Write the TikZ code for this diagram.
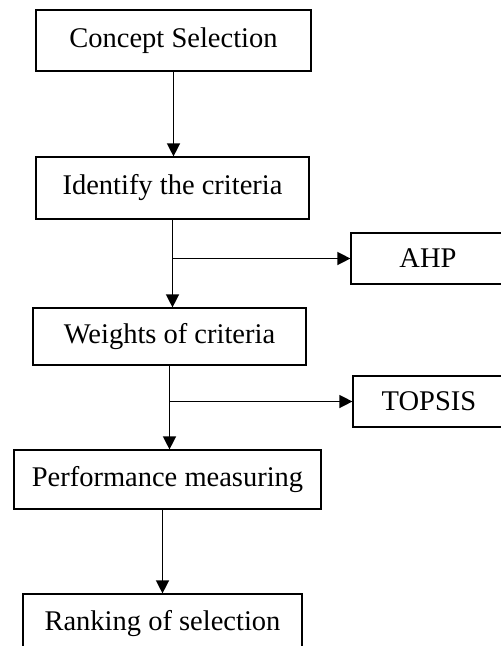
\documentclass[tikz,border=0pt]{standalone}
\usepackage{fontspec}
\setmainfont{Liberation Serif}
\usetikzlibrary{arrows.meta}
\tikzset{
  etape/.style={draw, line width=1.2pt, inner sep=0pt, font=\fontsize{28.5}{34}\selectfont},
  fleche/.style={line width=1.4pt, -{Triangle[length=13pt,width=13pt]}}
}

\begin{document}
\begin{tikzpicture}[x=1pt,y=-1pt]
\useasboundingbox (0,0) rectangle (501,646);

\node [etape, minimum width=275pt, minimum height=61pt] (concept) at (173.5,40.5) {Concept Selection};
\node [etape, minimum width=273pt, minimum height=62pt] (identify) at (172.5,188) {Identify the criteria};
\node [etape, minimum width=273pt, minimum height=57pt] (weights) at (169.5,336.5) {Weights of criteria};
\node [etape, minimum width=307pt, minimum height=59pt] (perf) at (167.5,479.5) {Performance measuring};
\node [etape, minimum width=279pt, minimum height=60pt] (ranking) at (162.5,624) {Ranking of selection};

\node [etape, minimum width=154pt, minimum height=51pt] (ahp) at (428,258.5) {AHP};
\node [etape, minimum width=152pt, minimum height=51pt] (topsis) at (429,401.5) {TOPSIS};

\coordinate (b1) at (identify.south |- ahp.west);
\coordinate (b2) at (weights.south |- topsis.west);

\draw [fleche] (concept.south) -- (concept.south |- identify.north);
\draw [fleche] (identify.south) -- (identify.south |- weights.north);
\draw [fleche] (b1) -- (ahp.west);
\draw [fleche] (weights.south) -- (weights.south |- perf.north);
\draw [fleche] (b2) -- (topsis.west);
\draw [fleche] (ranking.north |- perf.south) -- (ranking.north);

\end{tikzpicture}
\end{document}
